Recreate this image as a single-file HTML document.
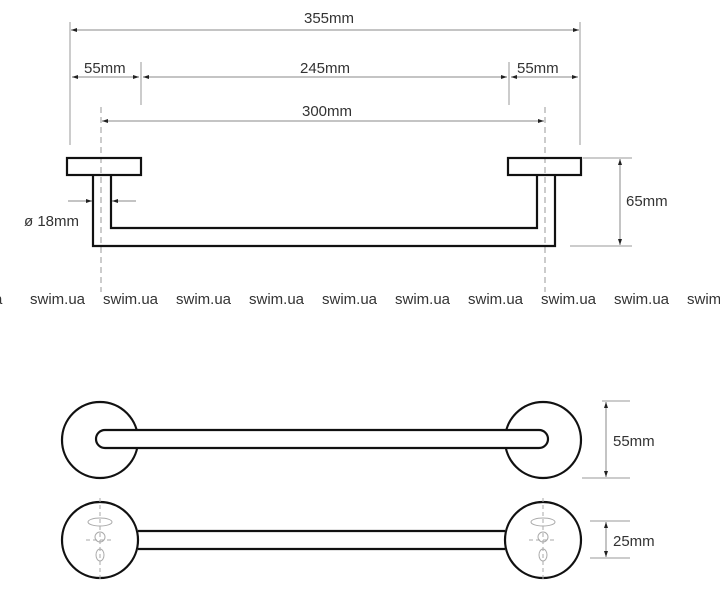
<!DOCTYPE html><html><head><style>body{margin:0;background:#fff}svg{display:block}text{font-family:"Liberation Sans",sans-serif;font-size:15px;fill:#333}</style></head><body>
<svg width="720" height="600" viewBox="0 0 720 600">
<defs><marker id="a" markerWidth="6" markerHeight="6" refX="6" refY="3" orient="auto-start-reverse"><path d="M0,1 L6,3 L0,5z" fill="#222"/></marker></defs>
<g stroke="#999" stroke-width="1" fill="none">
<line x1="70" y1="22" x2="70" y2="145"/><line x1="580" y1="22" x2="580" y2="145"/>
<line x1="141" y1="62" x2="141" y2="105"/><line x1="509" y1="62" x2="509" y2="105"/>
<line x1="101" y1="107" x2="101" y2="292" stroke-dasharray="6,4"/><line x1="545" y1="107" x2="545" y2="292" stroke-dasharray="6,4"/>
<line x1="583" y1="158" x2="632" y2="158"/><line x1="570" y1="246" x2="632" y2="246"/>
<line x1="602" y1="401" x2="630" y2="401"/><line x1="582" y1="478" x2="630" y2="478"/>
<line x1="590" y1="521" x2="630" y2="521"/><line x1="590" y1="558" x2="630" y2="558"/>
</g>
<g stroke="#888" stroke-width="1">
<line x1="71" y1="30" x2="579" y2="30" marker-start="url(#a)" marker-end="url(#a)"/>
<line x1="72" y1="77" x2="139" y2="77" marker-start="url(#a)" marker-end="url(#a)"/>
<line x1="143" y1="77" x2="507" y2="77" marker-start="url(#a)" marker-end="url(#a)"/>
<line x1="511" y1="77" x2="578" y2="77" marker-start="url(#a)" marker-end="url(#a)"/>
<line x1="102" y1="121" x2="544" y2="121" marker-start="url(#a)" marker-end="url(#a)"/>
<line x1="68" y1="201" x2="92" y2="201" marker-end="url(#a)"/>
<line x1="136" y1="201" x2="112" y2="201" marker-end="url(#a)"/>
<line x1="620" y1="159" x2="620" y2="245" marker-start="url(#a)" marker-end="url(#a)"/>
<line x1="606" y1="402" x2="606" y2="477" marker-start="url(#a)" marker-end="url(#a)"/>
<line x1="606" y1="522" x2="606" y2="557" marker-start="url(#a)" marker-end="url(#a)"/>
</g>
<text x="304" y="23">355mm</text><text x="84" y="73">55mm</text><text x="300" y="73">245mm</text><text x="517" y="73">55mm</text><text x="302" y="116">300mm</text>
<text x="24" y="226">ø 18mm</text><text x="626" y="206">65mm</text><text x="613" y="446">55mm</text><text x="613" y="546">25mm</text>
<g stroke="#111" stroke-width="2.2" fill="none">
<rect x="67" y="158" width="74" height="17"/><rect x="508" y="158" width="73" height="17"/>
<path d="M93,175 V246 H555 V175 M111,175 V228 H537 V175"/>
<circle cx="100" cy="440" r="38"/><circle cx="543" cy="440" r="38"/>
<rect x="96" y="430" width="452" height="18" rx="9" fill="#fff"/>
<circle cx="100" cy="540" r="38"/><circle cx="543" cy="540" r="38"/>
<path d="M138,531 H505 M138,549 H505"/>
</g>
<g stroke="#aaa" stroke-width="1" fill="none">
<path d="M100,498 V582 M86,540 H114 M543,498 V582 M529,540 H557" stroke-dasharray="4,3"/>
<ellipse cx="100" cy="522" rx="12" ry="4"/><circle cx="100" cy="537" r="5"/><ellipse cx="100" cy="555" rx="4" ry="6"/>
<ellipse cx="543" cy="522" rx="12" ry="4"/><circle cx="543" cy="537" r="5"/><ellipse cx="543" cy="555" rx="4" ry="6"/>
</g>
<g><text x="-6" y="304">a</text><text x="30" y="304">swim.ua</text><text x="103" y="304">swim.ua</text><text x="176" y="304">swim.ua</text><text x="249" y="304">swim.ua</text><text x="322" y="304">swim.ua</text><text x="395" y="304">swim.ua</text><text x="468" y="304">swim.ua</text><text x="541" y="304">swim.ua</text><text x="614" y="304">swim.ua</text><text x="687" y="304">swim.ua</text></g>
</svg></body></html>
